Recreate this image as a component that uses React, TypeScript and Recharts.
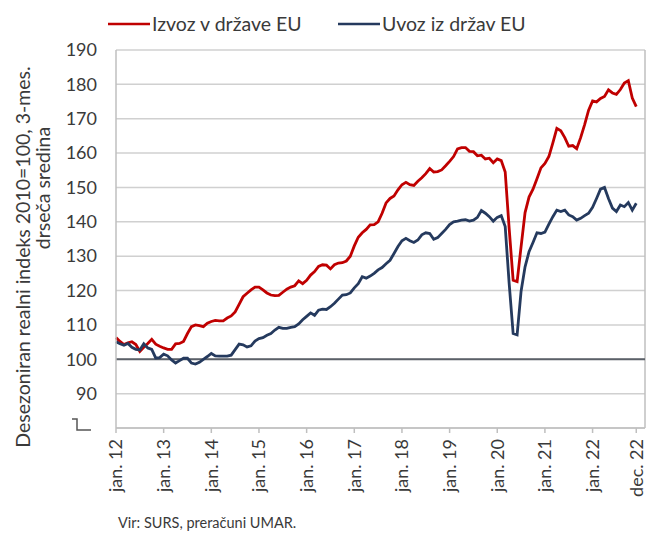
import React from 'react';
import { LineChart, Line, XAxis, YAxis, CartesianGrid, ReferenceLine } from 'recharts';

// month index 0 = jan. 2012, 131 = dec. 2022
const izvoz = [
  106.3, 105.2, 104.3, 104.8, 105.1, 104.3, 102.3, 103.5, 104.6, 105.8, 104.4, 103.8,
  103.3, 102.9, 102.9, 104.5, 104.6, 105.2, 107.5, 109.5, 110.0, 109.8, 109.5, 110.5,
  111.0, 111.3, 111.2, 111.2, 112.0, 112.6, 113.8, 116.0, 118.2, 119.2, 120.2, 121.0,
  121.0, 120.2, 119.3, 118.7, 118.5, 118.6, 119.5, 120.4, 121.0, 121.4, 122.8, 122.0,
  123.0, 124.5, 125.5, 127.0, 127.5, 127.4, 126.3, 127.5, 128.0, 128.1, 128.6, 130.0,
  133.0, 135.5, 136.8, 137.8, 139.1, 139.2, 140.0, 142.5, 145.5, 146.8, 147.5, 149.3,
  150.8, 151.5, 150.8, 150.6, 151.8, 152.8, 154.0, 155.5, 154.5, 154.6, 155.1, 156.3,
  157.6, 159.0, 161.2, 161.6, 161.6, 160.5, 160.4, 159.2, 159.4, 158.3, 158.5, 157.2,
  158.3, 157.8, 154.5, 138.0, 123.0, 122.6, 132.8, 142.7, 147.2, 149.5, 152.5, 155.7,
  157.0, 159.0, 163.0, 167.2, 166.5, 164.5, 162.0, 162.2, 161.3, 164.5, 168.3, 172.5,
  175.2, 174.9, 175.9, 176.5, 178.4, 177.5, 177.1, 178.5, 180.4, 181.1, 176.0, 173.5,
];

const uvoz = [
  105.1, 104.5, 104.1, 104.6, 103.5, 102.9, 102.7, 104.5, 103.3, 102.9, 100.4, 100.5,
  101.5, 101.0, 99.8, 98.9, 99.6, 100.3, 100.3, 98.9, 98.6, 99.1, 100.0, 100.8,
  101.7, 101.0, 100.9, 100.9, 100.9, 101.2, 102.8, 104.4, 104.2, 103.6, 103.9, 105.3,
  106.0, 106.3, 107.0, 107.5, 108.5, 109.3, 109.0, 109.0, 109.3, 109.5, 110.3, 111.5,
  112.5, 113.5, 112.8, 114.3, 114.6, 114.5, 115.3, 116.3, 117.5, 118.7, 118.8, 119.3,
  120.8, 122.0, 124.0, 123.6, 124.2, 125.0, 126.0, 126.7, 127.8, 128.8, 130.8, 132.8,
  134.5, 135.2, 134.5, 134.0, 134.7, 136.2, 136.8, 136.6, 134.9, 135.4, 136.6, 137.8,
  139.2, 140.0, 140.2, 140.5, 140.6, 140.2, 140.5, 141.3, 143.3, 142.5, 141.5, 140.2,
  141.3, 141.8, 138.6, 122.0, 107.5, 107.1, 119.8, 126.9, 131.3, 134.0, 136.8, 136.6,
  137.0, 139.3, 141.5, 143.4, 143.0, 143.4, 142.0, 141.5, 140.5, 141.0, 141.8, 142.5,
  144.2, 146.8, 149.5, 150.0, 146.8, 144.0, 143.0, 144.9, 144.4, 145.6, 143.4, 145.4,
];

const tickIndex = [0, 12, 24, 36, 48, 60, 72, 84, 96, 108, 120, 131];
const tickLabels = ['jan. 12', 'jan. 13', 'jan. 14', 'jan. 15', 'jan. 16', 'jan. 17', 'jan. 18', 'jan. 19', 'jan. 20', 'jan. 21', 'jan. 22', 'dec. 22'];
const yTicks = [80, 90, 100, 110, 120, 130, 140, 150, 160, 170, 180, 190];

const data = izvoz.map((v, i) => ({ i, izvoz: v, uvoz: uvoz[i] }));

const FONT = "Lato, 'Open Sans', sans-serif";
const TEXT = '#3a3a3a';
const RED = '#c00000';
const BLUE = '#253a5e';

const XTick = ({ x, y, payload }: any) => {
  const label = tickLabels[tickIndex.indexOf(payload.value)];
  return (
    <text x={x} y={y + 4} transform={`rotate(-90, ${x}, ${y + 4})`} textAnchor="end" dy="0.35em" fontSize={18} fill={TEXT} fontFamily={FONT}>
      {label}
    </text>
  );
};

const YTick = ({ y, payload }: any) => {
  if (payload.value === 80) {
    return <path d={`M72,${y - 9} h5 v11 h14`} fill="none" stroke="#555" strokeWidth={1.5} />;
  }
  return (
    <text x={97} y={y} textAnchor="end" dy="0.35em" fontSize={18} fill={TEXT} fontFamily={FONT}>
      {payload.value}
    </text>
  );
};

const App: React.FC = () => {
  return (
    <div style={{ position: 'absolute', left: 0, top: 0, width: 649, height: 536, background: '#fff' }}>
      <LineChart width={649} height={536} data={data} margin={{ top: 50, right: 4, bottom: 0, left: 0 }}>
        <CartesianGrid vertical={false} stroke="#d0d0d0" strokeWidth={1.5} />
        <XAxis
          dataKey="i"
          type="number"
          domain={[0, 133.2]}
          ticks={tickIndex}
          tick={<XTick />}
          height={108}
          tickSize={5}
          stroke="#bfbfbf"
          strokeWidth={1.5}
          interval={0}
        />
        <YAxis
          domain={[80, 190]}
          ticks={yTicks}
          tick={<YTick />}
          width={116}
          tickLine={false}
          stroke="#bfbfbf"
          strokeWidth={1.5}
          interval={0}
        />
        <ReferenceLine x={133.2} stroke="#bfbfbf" strokeWidth={1.5} />
        <ReferenceLine y={100} stroke="#5b6068" strokeWidth={2} />
        <Line type="linear" dataKey="izvoz" stroke={RED} strokeWidth={2.8} dot={false} isAnimationActive={false} />
        <Line type="linear" dataKey="uvoz" stroke={BLUE} strokeWidth={2.8} dot={false} isAnimationActive={false} />
      </LineChart>
      <svg width={649} height={536} style={{ position: 'absolute', left: 0, top: 0, pointerEvents: 'none' }} fontFamily={FONT}>
        <line x1={108} x2={150} y1={24} y2={24} stroke={RED} strokeWidth={2.5} />
        <text x={152} y={24} dy="0.35em" fontSize={19.5} fill={TEXT}>Izvoz v države EU</text>
        <line x1={338} x2={380} y1={24} y2={24} stroke={BLUE} strokeWidth={2.5} />
        <text x={382} y={24} dy="0.35em" fontSize={19.5} fill={TEXT}>Uvoz iz držav EU</text>
        <text x={23} y={257} transform="rotate(-90, 23, 257)" textAnchor="middle" dy="0.35em" fontSize={19.5} fill={TEXT}>
          Desezoniran realni indeks 2010=100, 3-mes.
        </text>
        <text x={43} y={188} transform="rotate(-90, 43, 188)" textAnchor="middle" dy="0.35em" fontSize={19.5} fill={TEXT}>
          drseča sredina
        </text>
        <text x={118} y={528} fontSize={14.5} fill={TEXT}>Vir: SURS, preračuni UMAR.</text>
      </svg>
    </div>
  );
};

export default App;
